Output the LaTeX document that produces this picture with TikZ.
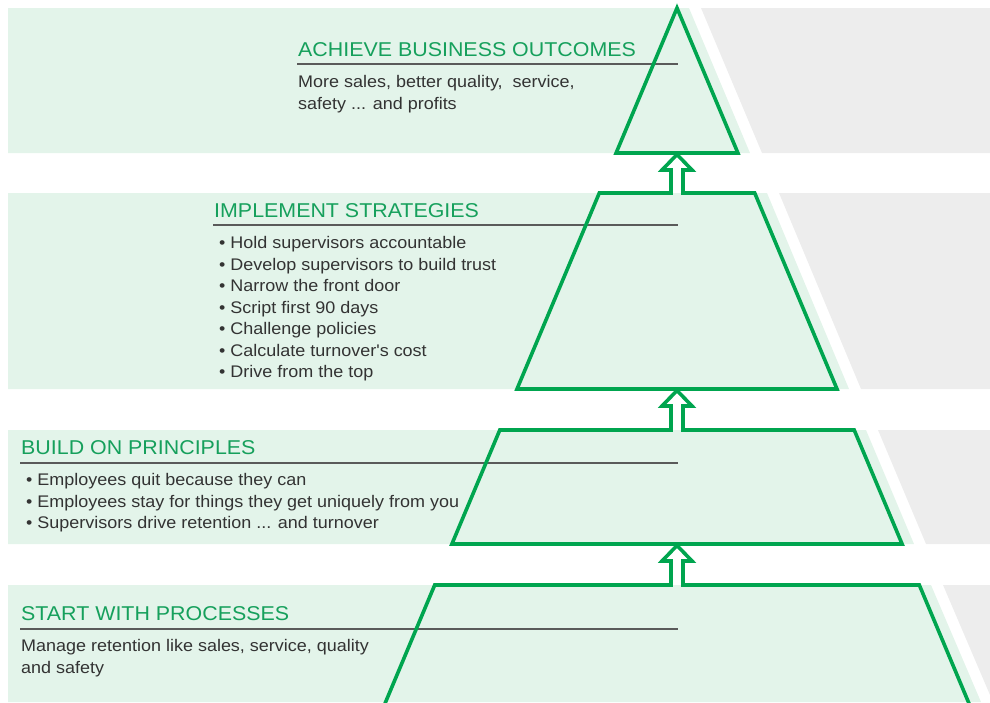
\documentclass[tikz,border=0pt]{standalone}
\usepackage{fontspec}
\newfontfamily\diagfont[FakeStretch=1.07]{Liberation Sans}
\usepackage{tikz}
\usetikzlibrary{positioning}
\definecolor{bandgreen}{HTML}{E3F4EA}
\definecolor{bandgrey}{HTML}{EDEDED}
\definecolor{tiergreen}{HTML}{00A54F}
\definecolor{headgreen}{HTML}{16A05C}
\definecolor{bodygrey}{HTML}{333333}
\definecolor{rulegrey}{HTML}{5A5A5A}
\tikzstyle{greenband} = [fill=bandgreen]
\tikzstyle{greyband} = [fill=bandgrey]
\tikzstyle{tier} = [draw=tiergreen, line width=3.6pt, line join=miter]
\tikzstyle{headtext} = [anchor=base west, inner sep=0pt, text=headgreen, font=\diagfont\fontsize{20}{24}\selectfont]
\tikzstyle{bodytext} = [anchor=north west, inner sep=0pt, align=left, text=bodygrey, font=\diagfont\fontsize{16.8}{21.5}\selectfont]
\tikzstyle{headrule} = [draw=rulegrey, line width=1.5pt]
\newcommand{\itembul}{\textbullet\ }

\begin{document}
\begin{tikzpicture}[x=1pt, y=-1pt, node distance=19.5pt]
        \useasboundingbox (0,0) rectangle (990,702);
        \clip (0,0) rectangle (990,702);

        \fill[greenband] (8,8) -- (689,8) -- (750,153) -- (8,153) -- cycle;
        \fill[greyband] (701,8) -- (990,8) -- (990,153) -- (762,153) -- cycle;
        \fill[greenband] (8,193) -- (767,193) -- (849,389) -- (8,389) -- cycle;
        \fill[greyband] (779,193) -- (990,193) -- (990,389) -- (861,389) -- cycle;
        \fill[greenband] (8,430) -- (866,430) -- (914,544) -- (8,544) -- cycle;
        \fill[greyband] (878,430) -- (990,430) -- (990,544) -- (926,544) -- cycle;
        \fill[greenband] (8,585) -- (931,585) -- (981,702) -- (8,702) -- cycle;
        \fill[greyband] (943,585) -- (990,585) -- (990,702) -- (993,702) -- cycle;

        \node (achieve) [headtext] at (298,56) {ACHIEVE BUSINESS OUTCOMES};
        \node (achievetxt) [bodytext, below=of achieve.base west, anchor=north west] {More sales, better quality,\ \ service,\\safety ... and profits};
        \node (implement) [headtext] at (214,217) {IMPLEMENT STRATEGIES};
        \node (implementtxt) [bodytext, below=of implement.base west, anchor=north west, xshift=5pt] {\itembul Hold supervisors accountable\\\itembul Develop supervisors to build trust\\\itembul Narrow the front door\\\itembul Script first 90 days\\\itembul Challenge policies\\\itembul Calculate turnover's cost\\\itembul Drive from the top};
        \node (build) [headtext] at (21,454) {BUILD ON PRINCIPLES};
        \node (buildtxt) [bodytext, below=of build.base west, anchor=north west, xshift=5pt] {\itembul Employees quit because they can\\\itembul Employees stay for things they get uniquely from you\\\itembul Supervisors drive retention ... and turnover};
        \node (start) [headtext] at (21,620) {START WITH PROCESSES};
        \node (starttxt) [bodytext, below=of start.base west, anchor=north west] {Manage retention like sales, service, quality\\and safety};

        \draw[headrule] (297,64) -- (678,64);
        \draw[headrule] (213,225) -- (678,225);
        \draw[headrule] (20,463) -- (678,463);
        \draw[headrule] (20,629) -- (678,629);

        \draw[tier] (677,8) -- (737.9,153) -- (616.1,153) -- cycle;
        \draw[tier] (599.3,193) -- (671,193) -- (671,170) -- (662,170) -- (677,154.5) -- (692,170) -- (683,170) -- (683,193) -- (754.7,193) -- (837,389) -- (517,389) -- cycle;
        \draw[tier] (499.8,430) -- (671,430) -- (671,406) -- (662,406) -- (677,390.5) -- (692,406) -- (683,406) -- (683,430) -- (854.2,430) -- (902.1,544) -- (451.9,544) -- cycle;
        \draw[tier] (381,713) -- (434.7,585) -- (671,585) -- (671,561) -- (662,561) -- (677,545.5) -- (692,561) -- (683,561) -- (683,585) -- (919.3,585) -- (973,713);
    \end{tikzpicture}
\end{document}
